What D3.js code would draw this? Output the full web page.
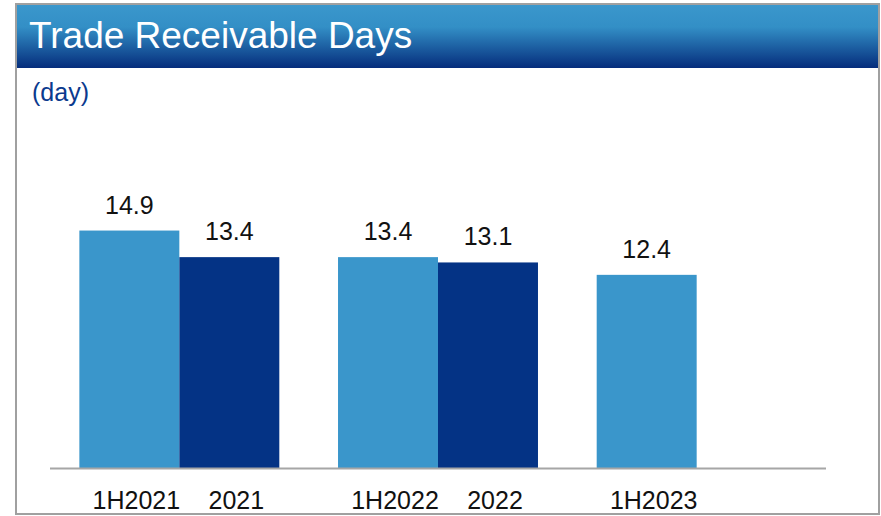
<!DOCTYPE html>
<html>
<head>
<meta charset="utf-8">
<script src="https://cdn.jsdelivr.net/npm/d3@7"></script>
<style>
  body { margin: 0; background: #fff; }
  text { font-family: Arial, "Liberation Sans", sans-serif; }
</style>
</head>
<body>
<script>
var width = 881;
var height = 516;

// chart data
var categories = ['1H2021', '2021', '1H2022', '2022', '1H2023'];
var values = [14.9, 13.4, 13.4, 13.1, 12.4];
var groups = ['2021', '2022', '2023'];
var groupOf = ['2021', '2021', '2022', '2022', '2023'];
var seriesOf = ['1H', 'FY', '1H', 'FY', '1H'];
var seriesNames = ['1H', 'FY'];
var colors = { '1H': '#3a96cb', 'FY': '#043385' };

var bars = categories.map(function(c, i) {
  return { cat: c, value: values[i], group: groupOf[i], series: seriesOf[i] };
});

var svg = d3.select('body').append('svg')
    .attr('width', width)
    .attr('height', height);

// header gradient
var grad = svg.append('defs').append('linearGradient')
    .attr('id', 'hdr')
    .attr('x1', 0).attr('y1', 0).attr('x2', 0).attr('y2', 1);
grad.append('stop').attr('offset', '0%').attr('stop-color', '#3a97cc');
grad.append('stop').attr('offset', '35%').attr('stop-color', '#338fc6');
grad.append('stop').attr('offset', '100%').attr('stop-color', '#052d7c');

// frame
svg.append('rect')
    .attr('x', 16).attr('y', 4)
    .attr('width', 863).attr('height', 510)
    .attr('fill', '#fff')
    .attr('stroke', '#a0a0a0')
    .attr('stroke-width', 2);

svg.append('rect')
    .attr('x', 17).attr('y', 5)
    .attr('width', 861).attr('height', 63)
    .attr('fill', 'url(#hdr)');

svg.append('text')
    .attr('x', 29).attr('y', 48)
    .attr('fill', '#fff')
    .style('font-size', '37px')
    .text('Trade Receivable Days');

svg.append('text')
    .attr('x', 32).attr('y', 101)
    .attr('fill', '#0b3a8e')
    .style('font-size', '25px')
    .text('(day)');

// scales
var baseY = 468;
var x0 = d3.scaleBand()
    .domain(groups)
    .range([50, 826])
    .paddingInner(0.227)
    .paddingOuter(0.1135);

var x1 = d3.scaleBand()
    .domain(seriesNames)
    .range([0, x0.bandwidth()]);

var y = d3.scaleLinear()
    .domain([1.5, 16])
    .range([baseY, baseY - 17.72 * 14.5]);

var g = svg.append('g');

g.selectAll('rect.bar')
  .data(bars)
  .enter().append('rect')
    .attr('class', 'bar')
    .attr('x', function(d) { return x0(d.group) + x1(d.series); })
    .attr('y', function(d) { return y(d.value); })
    .attr('width', x1.bandwidth())
    .attr('height', function(d) { return baseY - y(d.value); })
    .attr('fill', function(d) { return colors[d.series]; });

// value labels
g.selectAll('text.val')
  .data(bars)
  .enter().append('text')
    .attr('class', 'val')
    .attr('x', function(d) { return x0(d.group) + x1(d.series) + x1.bandwidth() / 2; })
    .attr('y', function(d) { return y(d.value) - 17; })
    .attr('text-anchor', 'middle')
    .attr('fill', '#111')
    .style('font-size', '25px')
    .text(function(d) { return d.value.toFixed(1); });

// baseline
svg.append('line')
    .attr('x1', 50).attr('x2', 826)
    .attr('y1', baseY + 0.5).attr('y2', baseY + 0.5)
    .attr('stroke', '#a6a6a6')
    .attr('stroke-width', 2);

// category labels
g.selectAll('text.cat')
  .data(bars)
  .enter().append('text')
    .attr('class', 'cat')
    .attr('x', function(d) { return x0(d.group) + x1(d.series) + x1.bandwidth() / 2 + 7; })
    .attr('y', 509)
    .attr('text-anchor', 'middle')
    .attr('fill', '#111')
    .style('font-size', '25px')
    .text(function(d) { return d.cat; });
</script>
</body>
</html>
